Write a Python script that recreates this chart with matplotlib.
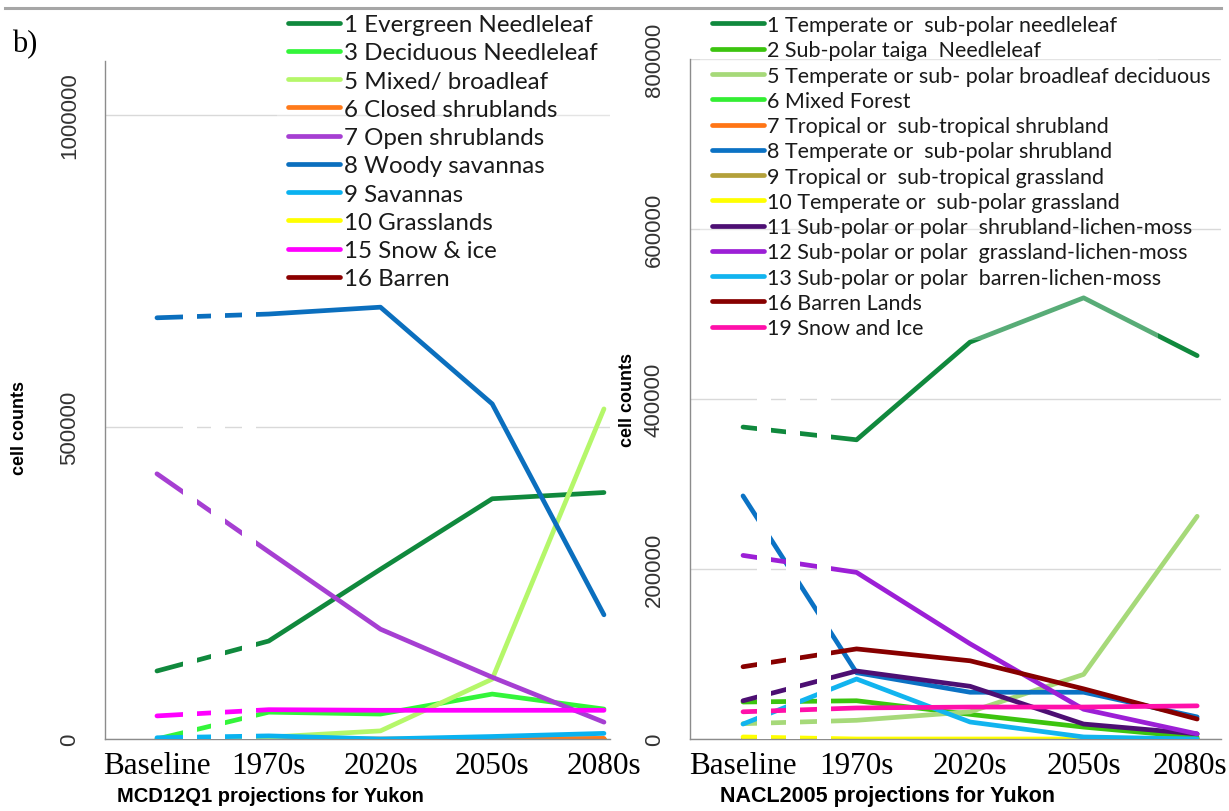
import numpy as np
import matplotlib
matplotlib.use("Agg")
import matplotlib.pyplot as plt
from matplotlib.patches import Rectangle
from matplotlib.lines import Line2D
from matplotlib.transforms import ScaledTranslation

nan = np.nan

# ── Periodos ─────────────────────────────────────────────────
periods = ["Baseline", "1970s", "2020s", "2050s", "2080s"]

# ── MCD12Q1 (cell counts por classe) ─────────────────────────
mcd_labels = [
    "1 Evergreen Needleleaf",
    "3 Deciduous Needleleaf",
    "5 Mixed/ broadleaf",
    "6 Closed shrublands",
    "7 Open shrublands",
    "8 Woody savannas",
    "9 Savannas",
    "10 Grasslands",
    "15 Snow & ice",
    "16 Barren",
]
mcd_evergreen   = [109000, 157000, 272000, 385000, 395000]
mcd_deciduous   = [0, 43000, 40000, 72000, 48000]
mcd_mixed       = [0, 3000, 13000, 96000, 529000]
mcd_closed_shr  = [nan, 0, 0, 0, 1000]
mcd_open_shr    = [425000, 300000, 176000, 99000, 27000]
mcd_woody_sav   = [675000, 681000, 692000, 537000, 199000]
mcd_savannas    = [2000, 5000, 0, 4000, 9000]
mcd_grasslands  = [0, 0, 0, 0, 0]
mcd_snow_ice    = [37000, 47000, 46000, 46000, 46000]
mcd_barren      = [0, 0, 0, 0, 0]
mcd_series = [mcd_evergreen, mcd_deciduous, mcd_mixed, mcd_closed_shr, mcd_open_shr,
              mcd_woody_sav, mcd_savannas, mcd_grasslands, mcd_snow_ice, mcd_barren]
mcd_colors = ["#10893d", "#33f53a", "#b5f76a", "#ff7a1a", "#a63fd2",
              "#0b6fbe", "#0ab2f0", "#ffff00", "#ff00ff", "#8b0000"]
mcd_zorder = [2.1, 2.2, 2.3, 2.06, 2.5, 2.6, 2.7, 2.05, 2.9, 2.0]

# ── NACL2005 (cell counts por classe) ────────────────────────
nacl_labels = [
    "1 Temperate or  sub-polar needleleaf",
    "2 Sub-polar taiga  Needleleaf",
    "5 Temperate or sub- polar broadleaf deciduous",
    "6 Mixed Forest",
    "7 Tropical or  sub-tropical shrubland",
    "8 Temperate or  sub-polar shrubland",
    "9 Tropical or  sub-tropical grassland",
    "10 Temperate or  sub-polar grassland",
    "11 Sub-polar or polar  shrubland-lichen-moss",
    "12 Sub-polar or polar  grassland-lichen-moss",
    "13 Sub-polar or polar  barren-lichen-moss",
    "16 Barren Lands",
    "19 Snow and Ice",
]
nacl_needleleaf    = [367000, 352000, 467000, 519000, 451000]
nacl_taiga         = [43500, 45000, 29000, 14000, 2000]
nacl_broadleaf     = [18000, 22000, 32000, 76000, 262000]
nacl_mixed_forest  = [0, 0, 0, 0, 0]
nacl_trop_shrub    = [0, 0, 0, 0, 0]
nacl_temp_shrub    = [286000, 78000, 55000, 55000, 26000]
nacl_trop_grass    = [0, 0, 0, 0, 0]
nacl_temp_grass    = [2400, 0, 0, 0, 0]
nacl_shrub_lichen  = [45000, 80000, 62000, 17600, 6000]
nacl_grass_lichen  = [216000, 196000, 112000, 35000, 6000]
nacl_barren_lichen = [17600, 70600, 20000, 2400, 0]
nacl_barren        = [85000, 106000, 92000, 59000, 23500]
nacl_snow_ice      = [32000, 36500, 37600, 37600, 39000]
nacl_series = [nacl_needleleaf, nacl_taiga, nacl_broadleaf, nacl_mixed_forest,
               nacl_trop_shrub, nacl_temp_shrub, nacl_trop_grass, nacl_temp_grass,
               nacl_shrub_lichen, nacl_grass_lichen, nacl_barren_lichen,
               nacl_barren, nacl_snow_ice]
nacl_colors = ["#10893d", "#3cc40f", "#a6d979", "#33ee33", "#ff7515",
               "#0b72c4", "#b3a03a", "#ffff00", "#4d0f73", "#9c1fd6",
               "#12b4ef", "#870000", "#ff10aa"]
nacl_zorder = [2.1, 2.2, 2.3, 2.01, 2.02, 2.4, 2.03, 2.05, 2.5, 2.6, 2.7, 2.8, 2.9]

# faixas brancas no trecho Baseline-1970s (tracejado)
mcd_gaps  = [(0.233, 0.358), (0.483, 0.608), (0.761, 0.886)]
nacl_gaps = [(0.123, 0.247), (0.379, 0.502), (0.652, 0.775)]

W, H = 1229, 812
fig = plt.figure(figsize=(W / 100, H / 100), dpi=100)

SERIF = "Liberation Serif"
SANS = "Liberation Sans"
LEGEND_FONT = "Lato"


def draw_panel(ax, series, labels, colors, zorders, yticks, ylim, xlim, gaps, gap_top):
    x = np.arange(len(periods))
    lines = []
    for vals, lab, col, z in zip(series, labels, colors, zorders):
        (ln,) = ax.plot(x, vals, color=col, lw=3.4, label=lab, zorder=z,
                        solid_capstyle="round", solid_joinstyle="round")
        lines.append(ln)
    for x0, x1 in gaps:
        ax.axvspan(x0, x1, ymin=0, ymax=gap_top, color="white", lw=0, zorder=3.5)
    ax.set_xlim(*xlim)
    ax.set_ylim(*ylim)
    ax.set_xticks(x, periods, fontfamily=SERIF, fontsize=22.5)
    ax.set_yticks(yticks, [str(v) for v in yticks], fontfamily=SANS, fontsize=16,
                  color="#333333")
    for lab in ax.get_yticklabels():
        lab.set_rotation(90)
        lab.set_va("center")
    ax.tick_params(axis="both", length=0)
    ax.tick_params(axis="x", pad=9)
    ax.tick_params(axis="y", pad=18)
    ax.grid(axis="y", color="#d9d9d9", lw=1.0, zorder=0)
    ax.set_axisbelow(True)
    for side in ["top", "right"]:
        ax.spines[side].set_visible(False)
    for side in ["left", "bottom"]:
        ax.spines[side].set_color("#8c8c8c")
        ax.spines[side].set_linewidth(1.0)
    return lines


# ── Painel esquerdo: MCD12Q1 ─────────────────────────────────
ax1 = fig.add_axes([105 / W, 72 / H, 505 / W, 678 / H])
l1 = draw_panel(ax1, mcd_series, mcd_labels, mcd_colors, mcd_zorder,
                [0, 500000, 1000000], (0, 1086500), (-0.465, 4.054),
                mcd_gaps, 0.65)

# ── Painel direito: NACL2005 ─────────────────────────────────
ax2 = fig.add_axes([690 / W, 72 / H, 531 / W, 680 / H])
l2 = draw_panel(ax2, nacl_series, nacl_labels, nacl_colors, nacl_zorder,
                [0, 200000, 400000, 600000, 800000], (0, 800000), (-0.467, 4.21),
                nacl_gaps, 0.545)
# 2080s um pouco para a esquerda, dentro da figura
last = ax2.get_xticklabels()[-1]
last.set_transform(last.get_transform() + ScaledTranslation(-7 / 100, 0, fig.dpi_scale_trans))

# fundo semitransparente das legendas
fig.add_artist(Rectangle((277 / W, 1 - 295 / H), (610 - 277) / W, (295 - 12) / H,
                         transform=fig.transFigure, facecolor="white", alpha=0.3,
                         edgecolor="none", zorder=4))
fig.add_artist(Rectangle((700 / W, 1 - 341 / H), (1158 - 700) / W, (341 - 12) / H,
                         transform=fig.transFigure, facecolor="white", alpha=0.3,
                         edgecolor="none", zorder=4))

fig.legend(l1, mcd_labels, loc="upper left", bbox_to_anchor=(288 / W, 1 - 15 / H),
           frameon=False, prop={"family": LEGEND_FONT, "size": 17.4},
           handlelength=2.15, handletextpad=0.15, labelspacing=0.3,
           borderpad=0, borderaxespad=0, labelcolor="#1a1a1a")
fig.legend(l2, nacl_labels, loc="upper left", bbox_to_anchor=(712 / W, 1 - 16 / H),
           frameon=False, prop={"family": LEGEND_FONT, "size": 15.5},
           handlelength=2.4, handletextpad=0.15, labelspacing=0.245,
           borderpad=0, borderaxespad=0, labelcolor="#1a1a1a")

# ── Textos ───────────────────────────────────────────────────
fig.text(20 / W, 1 - 428 / H, "cell counts", rotation=90, ha="center", va="center",
         fontfamily=SANS, fontweight="bold", fontsize=13)
fig.text(628 / W, 1 - 400 / H, "cell counts", rotation=90, ha="center", va="center",
         fontfamily=SANS, fontweight="bold", fontsize=13)
fig.text(270 / W, 1 - 797 / H, "MCD12Q1 projections for Yukon", ha="center", va="center",
         fontfamily=SANS, fontweight="bold", fontsize=14.5)
fig.text(888 / W, 1 - 797 / H, "NACL2005 projections for Yukon", ha="center", va="center",
         fontfamily=SANS, fontweight="bold", fontsize=15.5)
fig.text(12 / W, 1 - 45 / H, "b)", ha="left", va="center", fontfamily=SERIF, fontsize=22)

# linha cinza no topo
fig.add_artist(Line2D([5 / W, 1221 / W], [1 - 9 / H, 1 - 9 / H], color="#a6a6a6", lw=2.2))

fig.savefig("out.png", dpi=100)
